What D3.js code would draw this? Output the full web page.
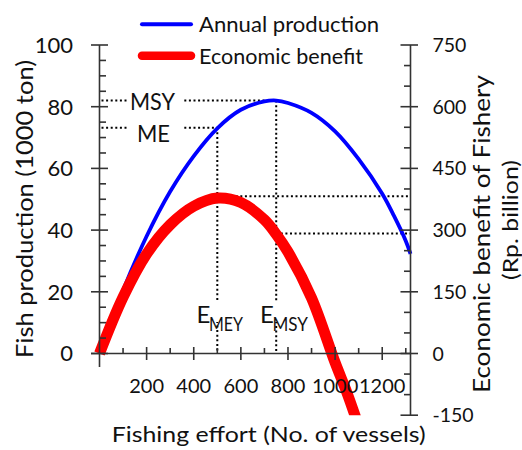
<!DOCTYPE html>
<html>
<head>
<meta charset="utf-8">
<script src="https://cdn.jsdelivr.net/npm/d3@7"></script>
<style>
  html, body { margin: 0; padding: 0; background: #fff; }
  svg { display: block; }
  text { font-family: Lato, "Open Sans", "DejaVu Sans", sans-serif; fill: #111; }
</style>
</head>
<body>
<svg id="chart" width="522" height="450"></svg>
<script>
// ---------- data ----------
const productionEffort = [0, 100, 200, 300, 400, 500, 600, 700, 750, 800, 900, 1000, 1100, 1200, 1250, 1300, 1320];
const production      = [0, 20.5, 38, 52.5, 64, 73, 79, 81.7, 82, 81.2, 78, 72, 63, 51.8, 44.6, 36.5, 32.3];
const benefitEffort   = [0, 100, 200, 300, 400, 500, 600, 700, 750, 800, 900, 1000, 1050, 1090];
const benefit         = [0, 137, 242, 313, 358, 378, 367, 325, 290, 247, 135, -22, -95, -160];
const xTicks     = [200, 400, 600, 800, 1000, 1200];
const xMinor     = [100, 300, 500, 700, 900, 1100, 1300];
const leftTicks  = [0, 20, 40, 60, 80, 100];
const leftMinor  = [5, 10, 15, 25, 30, 35, 45, 50, 55, 65, 70, 75, 85, 90, 95];
const rightTicks = [-150, 0, 150, 300, 450, 600, 750];
const rightMinor = [-100, -50, 50, 100, 200, 250, 350, 400, 500, 550, 650, 700];
const refLevels = { MSY: 82, ME: 73.2, E_MSY: 750, E_MEY: 500, benefitMax: 382, benefitMSY: 292 };
const seriesNames = ["Annual production", "Economic benefit"];

// ---------- scales ----------
const svg = d3.select("#chart");
const x  = d3.scaleLinear().domain([0, 1320]).range([99.5, 410.5]);
const yL = d3.scaleLinear().domain([0, 100]).range([353.5, 45]);
const yR = d3.scaleLinear().domain([0, 750]).range([353.5, 45]);

const axisColor = "#333";

// ---------- reference dotted lines ----------
const dots = svg.append("g").attr("stroke", "#000").attr("stroke-width", 2)
  .attr("stroke-dasharray", "2,2.6").attr("fill", "none");
dots.append("line").attr("x1", x(0) + 2).attr("x2", x(refLevels.E_MSY))
  .attr("y1", yL(refLevels.MSY)).attr("y2", yL(refLevels.MSY));
dots.append("line").attr("x1", x(refLevels.E_MSY)).attr("x2", x(refLevels.E_MSY))
  .attr("y1", yL(refLevels.MSY)).attr("y2", yL(0));
dots.append("line").attr("x1", x(0) + 2).attr("x2", x(refLevels.E_MEY))
  .attr("y1", yL(refLevels.ME)).attr("y2", yL(refLevels.ME));
dots.append("line").attr("x1", x(refLevels.E_MEY)).attr("x2", x(refLevels.E_MEY))
  .attr("y1", yL(refLevels.ME)).attr("y2", yL(0));
dots.append("line").attr("x1", x(refLevels.E_MEY)).attr("x2", x(1320))
  .attr("y1", yR(refLevels.benefitMax)).attr("y2", yR(refLevels.benefitMax));
dots.append("line").attr("x1", x(refLevels.E_MSY)).attr("x2", x(1320))
  .attr("y1", yR(refLevels.benefitMSY)).attr("y2", yR(refLevels.benefitMSY));

// white label backgrounds (under the curves)
const bg = svg.append("g").attr("fill", "#fff");
bg.append("rect").attr("x", 127).attr("y", yL(refLevels.MSY) - 8).attr("width", 55).attr("height", 16);
bg.append("rect").attr("x", 127).attr("y", yL(refLevels.ME) - 4).attr("width", 55).attr("height", 10);
bg.append("rect").attr("x", 193.5).attr("y", 301).attr("width", 53).attr("height", 21);
bg.append("rect").attr("x", 257).attr("y", 301).attr("width", 54.5).attr("height", 21);

// ---------- curves ----------
const defs = svg.append("defs");
defs.append("clipPath").attr("id", "clipR").append("rect")
  .attr("x", 0).attr("y", 0).attr("width", 522).attr("height", yR(-150));

const lineP = d3.line().x((d, i) => x(productionEffort[i])).y(d => yL(d)).curve(d3.curveCatmullRom.alpha(0.5));
const lineB = d3.line().x((d, i) => x(benefitEffort[i])).y(d => yR(d)).curve(d3.curveCatmullRom.alpha(0.5));

svg.append("path").datum(production).attr("d", lineP)
  .attr("fill", "none").attr("stroke", "#0000ff").attr("stroke-width", 3.8);
svg.append("path").datum(benefit).attr("d", lineB).attr("clip-path", "url(#clipR)")
  .attr("fill", "none").attr("stroke", "#ff0000").attr("stroke-width", 11);

// ---------- axes ----------
const ax = svg.append("g").attr("stroke", axisColor).attr("stroke-width", 1.6);
ax.append("line").attr("x1", x(0)).attr("x2", x(0)).attr("y1", yL(100)).attr("y2", yL(0) + 13.5);
leftTicks.forEach(v => ax.append("line").attr("x1", x(0) - 8.5).attr("x2", x(0) + 8.5).attr("y1", yL(v)).attr("y2", yL(v)));
leftMinor.forEach(v => ax.append("line").attr("x1", x(0)).attr("x2", x(0) + 6.5).attr("y1", yL(v)).attr("y2", yL(v)));
ax.append("line").attr("x1", x(1320)).attr("x2", x(1320)).attr("y1", yR(750)).attr("y2", yR(-150));
rightTicks.forEach(v => ax.append("line").attr("x1", x(1320) - 10).attr("x2", x(1320) + 7.5).attr("y1", yR(v)).attr("y2", yR(v)));
rightMinor.forEach(v => ax.append("line").attr("x1", x(1320) - 6.5).attr("x2", x(1320)).attr("y1", yR(v)).attr("y2", yR(v)));
ax.append("line").attr("x1", x(0) - 8.5).attr("x2", x(1320)).attr("y1", yL(0)).attr("y2", yL(0));
xTicks.forEach(v => ax.append("line").attr("x1", x(v)).attr("x2", x(v)).attr("y1", yL(0) - 6.5).attr("y2", yL(0) + 6.5));
xMinor.forEach(v => ax.append("line").attr("x1", x(v)).attr("x2", x(v)).attr("y1", yL(0) - 5.5).attr("y2", yL(0)));

// tick labels
svg.append("g").selectAll("text").data(leftTicks).join("text")
  .attr("x", x(0) - 26.5).attr("y", d => yL(d)).attr("dy", "0.36em")
  .attr("text-anchor", "end").style("font-size", "22px").text(d => d);
svg.append("g").selectAll("text").data(rightTicks).join("text")
  .attr("x", x(1320) + 22).attr("y", d => yR(d)).attr("dy", "0.36em")
  .attr("text-anchor", "start").style("font-size", "19.5px").text(d => d);
svg.append("g").selectAll("text").data(xTicks).join("text")
  .attr("x", d => x(d)).attr("y", 393)
  .attr("text-anchor", "middle").style("font-size", "20px").text(d => d);

// ---------- annotation labels ----------
function label(txt, cx, baseline, len) {
  svg.append("text").attr("x", cx).attr("y", baseline).attr("text-anchor", "middle")
    .style("font-size", "23px").attr("textLength", len).attr("lengthAdjust", "spacingAndGlyphs").text(txt);
}
label("MSY", 152.5, 110, 45);
label("ME", 153.5, 141.7, 33);

function eLabel(sub, xe, subLen) {
  svg.append("text").attr("x", xe).attr("y", 323.3).style("font-size", "24px").text("E");
  svg.append("text").attr("x", xe + 12.5).attr("y", 331).style("font-size", "20px")
    .attr("textLength", subLen).attr("lengthAdjust", "spacingAndGlyphs").text(sub);
}
eLabel("MEY", 196.5, 34);
eLabel("MSY", 260, 35.5);

// ---------- titles ----------
svg.append("text").attr("x", 111.7).attr("y", 441.7).style("font-size", "22px")
  .attr("textLength", 314).attr("lengthAdjust", "spacingAndGlyphs").text("Fishing effort (No. of vessels)");
svg.append("text").attr("transform", "translate(33,209) rotate(-90)").attr("text-anchor", "middle")
  .style("font-size", "23px").attr("textLength", 298).attr("lengthAdjust", "spacingAndGlyphs")
  .text("Fish production (1000 ton)");
svg.append("text").attr("transform", "translate(490,234) rotate(-90)").attr("text-anchor", "middle")
  .style("font-size", "23px").attr("textLength", 318).attr("lengthAdjust", "spacingAndGlyphs")
  .text("Economic benefit of Fishery");
svg.append("text").attr("transform", "translate(518,220) rotate(-90)").attr("text-anchor", "middle")
  .style("font-size", "22px").attr("textLength", 120).attr("lengthAdjust", "spacingAndGlyphs")
  .text("(Rp. billion)");

// ---------- legend ----------
const legend = svg.append("g");
const legendItems = [
  { name: seriesNames[0], color: "#0000ff", width: 4, y: 24.3, baseline: 31.7, len: 180 },
  { name: seriesNames[1], color: "#ff0000", width: 8.5, y: 55.8, baseline: 64, len: 164 }
];
legendItems.forEach(it => {
  legend.append("line").attr("x1", 142).attr("x2", 191).attr("y1", it.y).attr("y2", it.y)
    .attr("stroke", it.color).attr("stroke-width", it.width).attr("stroke-linecap", "round");
  legend.append("text").attr("x", 199).attr("y", it.baseline).style("font-size", "22px")
    .attr("textLength", it.len).attr("lengthAdjust", "spacingAndGlyphs").text(it.name);
});
</script>
</body>
</html>
